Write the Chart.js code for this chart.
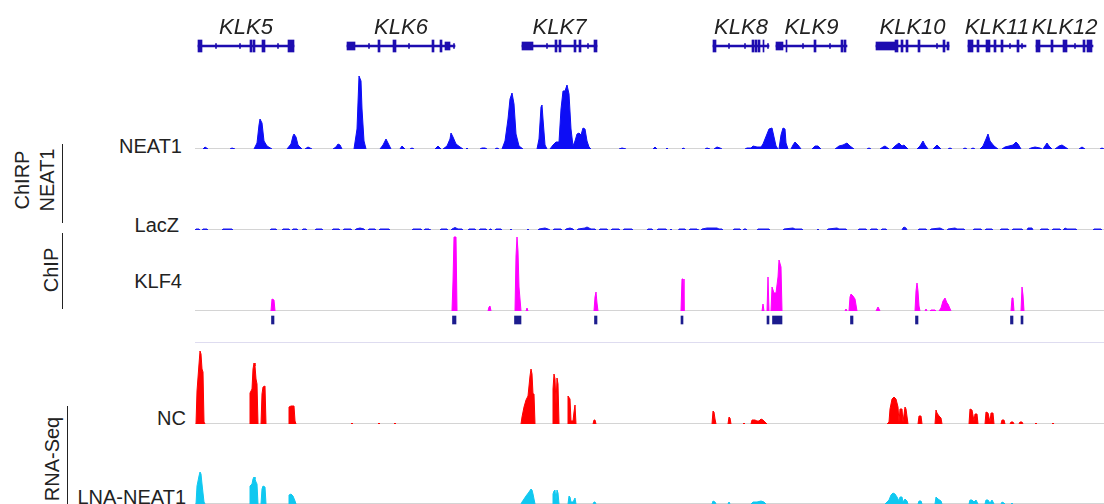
<!DOCTYPE html>
<html>
<head>
<meta charset="utf-8">
<script src="https://cdn.jsdelivr.net/npm/chart.js@4.4.1/dist/chart.umd.min.js"></script>
<style>
  body { margin: 0; background: #fff; }
  #wrap { position: relative; width: 1104px; height: 504px; overflow: hidden; font-family: "Liberation Sans", Arial, Helvetica, sans-serif; color: #222; }
  canvas { position: absolute; left: 195px; }
  .lbl { position: absolute; left: 0; font-size: 20px; line-height: 20px; text-align: right; white-space: nowrap; }
  .grp { position: absolute; font-size: 20px; line-height: 25px; text-align: center; white-space: nowrap; transform: translate(-50%, -50%) rotate(-90deg); }
  .vline { position: absolute; width: 1.3px; background: #222; }
</style>
</head>
<body>
<div id="wrap">
  <canvas id="genes" width="909" height="72" style="top:10px"></canvas>
  <canvas id="neat1" width="909" height="89" style="top:60px"></canvas>
  <canvas id="lacz" width="909" height="12" style="top:218px"></canvas>
  <canvas id="klf4" width="909" height="80" style="top:231px"></canvas>
  <canvas id="calls" width="909" height="16" style="top:312px"></canvas>
  <canvas id="nc" width="909" height="81" style="top:343px"></canvas>
  <canvas id="lna" width="909" height="81" style="top:423px"></canvas>

  <div style="position:absolute;left:195px;top:342px;width:909px;height:1px;background:#dedcf0"></div>

  <div class="lbl" style="width:182px;top:136px">NEAT1</div>
  <div class="lbl" style="width:179px;top:215px">LacZ</div>
  <div class="lbl" style="width:182px;top:271px">KLF4</div>
  <div class="lbl" style="width:186px;top:408px">NC</div>
  <div class="lbl" style="width:186px;top:487px">LNA-NEAT1</div>

  <div class="grp" style="left:35px;top:180px">ChIRP<br>NEAT1</div>
  <div class="grp" style="left:51px;top:270px">ChIP</div>
  <div class="grp" style="left:52px;top:459px">RNA-Seq</div>
  <div class="vline" style="left:62px;top:144px;height:79px"></div>
  <div class="vline" style="left:62px;top:233px;height:76px"></div>
  <div class="vline" style="left:67px;top:406px;height:98px"></div>
</div>

<script>
// позиции по оси x: бины локуса KLK (0..909)
var geneNames = ['KLK5', 'KLK6', 'KLK7', 'KLK8', 'KLK9', 'KLK10', 'KLK11', 'KLK12'];
var geneSpans = [[3, 99], [152, 260], [327, 402], [518, 574], [581, 652], [681, 754], [773, 831], [841, 898]];
var geneUtrs = [
  [],
  [[152, 160], [250, 255]],
  [[327, 338]],
  [],
  [[581, 588]],
  [[681, 700], [752, 754]],
  [],
  []
];
var geneExons = [
  [[3, 7], [55, 57], [58, 60], [67, 70], [93, 99]],
  [[183, 185], [198, 201], [237, 239], [245, 247]],
  [[360, 362], [364, 366], [379, 381], [384, 386], [399, 402]],
  [[518, 521], [557, 559], [560, 562], [563, 565], [568, 569]],
  [[591, 592], [619, 621], [646, 648], [649, 651]],
  [[700, 703], [706, 708], [711, 713], [723, 725], [748, 750]],
  [[773, 778], [782, 784], [791, 795], [799, 801], [806, 808], [822, 824]],
  [[841, 845], [856, 858], [868, 872], [888, 890], [892, 897]]
];
var geneArrows = [
  [[20.5, 21.5], [44.5, 45.5], [82.5, 83.5]],
  [[173.5, 174.5], [213.5, 214.5], [258.5, 259.5]],
  [[351.5, 352.5], [392.5, 393.5]],
  [[533.5, 534.5], [549.5, 550.5], [572.5, 573.5]],
  [[607.5, 608.5], [634.5, 635.5]],
  [[741.5, 742.5]],
  [[814.5, 815.5], [826.5, 827.5]],
  [[879.5, 880.5]]
];

// ChIRP NEAT1
var neat1Signal = [
  [8,0],[10,2],[13,0],[35,0],[37,1],[40,0],
  [59,0],[62,6],[64,24],[65,30],[67,26],[69,8],[72,3],[77,0],
  [92,0],[96,5],[98,13],[99,15],[101,12],[103,4],[107,0],
  [110,0],[113,2],[117,0],[138,0],[141,2],[143,5],[145,4],[147,0],
  [159,0],[162,20],[164,73],[166,68],[167,40],[169,8],[171,0],
  [185,0],[188,4],[191,10],[193,6],[196,0],
  [205,0],[207,3],[210,0],[215,0],[217,1],[219,0],[240,0],[243,3],[246,0],
  [248,0],[252,3],[255,10],[256,16],[258,12],[261,5],[265,2],[268,0],
  [271,0],[272,1],[273,0],[285,0],[287,1],[290,1],[292,0],[300,0],[302,1],[304,0],
  [307,0],[310,8],[313,30],[315,50],[317,56],[319,45],[321,15],[324,3],[328,0],
  [342,0],[344,10],[346,42],[347,44],[348,30],[350,4],[352,0],
  [355,0],[358,4],[361,7],[364,7],[366,40],[368,58],[370,58],[372,64],[374,55],[376,20],[378,3],
  [380,8],[382,15],[384,16],[386,14],[388,21],[390,20],[392,8],[394,2],[396,0],
  [424,0],[427,1],[431,0],
  [458,0],[460,2],[462,0],[471,0],[472,1],[473,0],[487,0],[488,1],[490,0],
  [510,0],[512,1],[515,0],[519,0],[522,2],[525,1],[527,0],
  [550,0],[552,1],[556,1],[558,3],[562,2],[566,2],[568,5],[570,10],[574,20],[577,21],[579,12],[581,3],[583,0],
  [584,0],[586,14],[588,21],[590,20],[591,6],[593,0],
  [596,0],[598,4],[600,7],[603,4],[606,0],[617,0],[620,3],[623,3],[626,0],
  [640,0],[644,3],[648,4],[652,6],[655,3],[659,0],[672,0],[674,1],[676,0],
  [685,0],[688,2],[690,3],[694,0],[697,0],[700,3],[704,6],[707,3],[709,4],[713,0],
  [722,0],[725,3],[728,8],[730,4],[733,0],[738,0],[742,4],[746,0],[753,0],[755,1],[757,0],
  [768,0],[770,1],[772,0],[776,0],[778,1],[780,0],
  [785,0],[788,3],[791,10],[793,15],[795,8],[799,3],[803,0],
  [807,0],[810,2],[814,3],[818,4],[821,7],[823,5],[826,0],
  [834,0],[836,1],[840,2],[845,1],[847,0],[848,0],[850,3],[852,6],[854,3],[857,0],
  [860,0],[864,3],[867,4],[870,2],[873,0],[884,0],[887,2],[890,0],[905,0],[907,1],[909,0]
];

// ChIRP LacZ (короткие отрезки фонового сигнала)
var laczSignal = [
  [0,0],[1,1],[4,1],[5,0],[7,0],[8,1],[12,1],[13,0],[27,0],[28,1],[37,1],[38,0],
  [75,0],[76,1],[81,1],[82,0],[87,0],[88,1],[94,1],[95,0],[97,0],[98,1],[102,1],[103,0],
  [107,0],[108,1],[111,1],[112,0],[120,0],[121,1],[127,1],[128,0],
  [137,0],[138,1],[144,1],[145,0],[148,0],[149,1],[156,1],[157,0],[160,0],[161,1],[165,2],[169,1],[170,0],
  [173,0],[174,1],[180,1],[181,0],[184,0],[185,1],[194,1],[195,0],
  [217,0],[218,1],[226,1],[227,0],[229,0],[230,1],[234,1],[235,0],
  [245,0],[246,1],[252,1],[253,0],[256,0],[257,1],[260,2.5],[263,1],[267,1],[268,0],
  [273,0],[274,1],[280,1],[281,0],[284,0],[285,1],[291,1],[292,0],[294,0],[295,1],[296,1],[297,0],
  [300,0],[301,1],[306,1],[307,0],[315,0],[316,1],[317,0],[332,0],[333,1],[334,0],
  [343,0],[344,1],[350,2],[353,1],[355,0],[358,0],[359,1],[366,1],[367,0],[370,0],[371,1],[375,2],[378,1],[379,0],
  [382,0],[383,1],[390,2],[392,3],[394,2],[396,1],[400,1],[401,0],[404,0],[405,1],[412,1],[413,0],
  [416,0],[417,1],[424,1],[425,0],[428,0],[429,1],[437,1],[438,0],
  [452,0],[453,1],[457,1],[458,0],[462,0],[463,1],[471,1],[472,0],[475,0],[476,1],[477,0],
  [483,0],[484,1],[490,1],[491,0],[494,0],[495,1],[502,1],[503,0],[506,0],[507,1],[512,2],[517,2],[522,2],[524,1],[527,1],[528,0],
  [538,0],[539,1],[545,1],[546,0],[548,0],[549,1],[551,1],[552,0],[562,0],[563,1],[574,1],[575,0],
  [588,0],[589,1],[598,2],[600,1],[607,1],[608,0],[622,0],[623,1],[624,0],
  [632,0],[633,1],[642,2],[644,1],[651,1],[652,0],[663,0],[664,1],[671,1],[672,0],[675,0],[676,1],[682,1],[683,0],[686,0],[687,1],[691,1],[692,0],
  [707,0],[708,2],[709,3],[711,2],[712,0],
  [723,0],[724,1],[731,1],[732,0],[735,0],[736,1],[745,2],[747,1],[749,0],[752,0],[753,1],[760,2],[762,1],[769,1],[770,0],
  [778,0],[779,1],[786,1],[787,0],[790,0],[791,1],[797,1],[798,0],[805,0],[806,1],[813,1],[814,0],[817,0],[818,1],[827,1],[828,0],[832,0],[833,2],[837,2],[838,0],
  [845,0],[846,1],[853,1],[854,0],[857,0],[858,1],[865,1],[866,0],[868,0],[870,2],[872,1],[881,1],[882,0],[898,0],[899,1],[906,1],[907,0]
];

// ChIP KLF4
var klf4Signal = [
  [76,0],[77,12],[79,11],[80,0],
  [257,0],[258,30],[259,74],[261,74],[262,0],
  [293,0],[294,4],[295,5],[296,0],
  [320,0],[321,55],[322,74],[323,60],[324,24],[325,12],[326,0],
  [331,0],[332,3],[333,0],
  [399,0],[400,14],[401,19],[402,8],[403,0],
  [486,0],[487,32],[488,32],[489,0],
  [567,0],[568,7],[569,0],[572,0],[573,34],[574,0],
  [576,0],[577,24],[579,18],[581,18],[583,34],[584,51],[586,44],[587,0],
  [650,0],[651,2],[652,0],[654,0],[655,14],[656,17],[658,15],[660,12],[662,0],
  [681,0],[683,4],[685,0],
  [720,0],[721,20],[722,28],[723,20],[724,5],[725,0],
  [730,0],[731,2],[732,0],[735,0],[736,1],[740,1],[741,0],
  [744,0],[746,3],[748,10],[750,13],[752,8],[753,7],[756,0],
  [816,0],[817,13],[818,13],[819,0],
  [826,0],[827,24],[828,16],[829,0]
];

// KLF4 peak calls
var klf4Peaks = [[76.5, 79], [257.5, 261], [319.5, 326], [399.5, 402], [486, 488], [572, 574], [577.5, 587], [655.5, 658], [720.5, 723], [815.5, 818], [826, 828]];

// RNA-Seq NC
var ncSignal = [
  [1,0],[2,33],[4,60],[5,73],[6,70],[7,55],[8,52],[9,2],[10,0],
  [55,0],[55,31],[57,35],[58,55],[59,61],[60,58],[61,45],[62,40],[63,0],
  [66,0],[67,30],[68,37],[70,38],[71,0],
  [94,0],[94,17],[96,18],[99,18],[100,3],[101,0],
  [156,0],[157,1],[158,0],[183,0],[184,1],[185,0],[199,0],[200,1],[201,0],
  [326,0],[327,7],[329,17],[331,24],[333,28],[335,48],[336,55],[337,50],[338,30],[339,30],[340,0],
  [358,0],[358,35],[359,50],[360,45],[361,20],[362,46],[363,40],[364,0],
  [373,0],[373,28],[375,25],[376,3],[378,3],[379,12],[380,19],[381,0],
  [398,0],[399,4],[400,4],[401,0],
  [517,0],[518,13],[519,12],[520,5],[521,0],[533,0],[534,7],[535,6],[536,0],[548,0],[549,1],[550,0],
  [556,0],[557,4],[560,4],[562,3],[564,3],[566,5],[568,4],[570,2],[572,0],
  [692,0],[694,2],[695,15],[697,25],[699,27],[701,25],[703,17],[704,2],[705,15],[707,15],[708,2],[710,17],[711,15],[713,0],
  [723,0],[724,8],[726,8],[727,0],
  [740,0],[741,14],[742,11],[744,8],[746,6],[747,0],
  [774,0],[775,15],[777,14],[779,3],[780,10],[782,10],[783,0],
  [790,0],[791,12],[793,11],[795,2],[796,11],[798,11],[799,0],
  [806,0],[807,4],[809,4],[810,0],[815,0],[816,2],[818,2],[819,0],[824,0],[825,2],[827,2],[828,0],
  [840,0],[841,1],[842,0],[857,0],[858,1],[859,0]
];

// RNA-Seq LNA-NEAT1
var lnaSignal = [
  [1,0],[2,18],[4,28],[5,32],[6,30],[7,20],[9,2],[10,0],
  [55,0],[55,18],[57,20],[58,25],[59,27],[60,25],[61,22],[62,20],[63,0],
  [66,0],[67,15],[68,18],[70,17],[71,0],
  [94,0],[94,9],[96,10],[98,8],[100,3],[101,0],
  [326,0],[327,2],[329,5],[331,8],[334,12],[336,15],[337,14],[338,10],[340,0],
  [358,0],[358,10],[359,13],[360,14],[361,4],[362,14],[363,11],[364,0],
  [373,0],[374,8],[375,7],[376,2],[378,2],[380,6],[381,0],
  [398,0],[399,2],[400,2],[401,0],
  [517,0],[518,3],[520,2],[521,0],[533,0],[534,2],[535,0],
  [556,0],[558,2],[562,2],[566,3],[569,2],[571,0],
  [690,0],[694,4],[696,9],[698,11],[700,10],[702,7],[704,3],[705,7],[707,7],[708,2],[710,5],[712,3],[713,0],
  [723,0],[724,3],[726,3],[727,0],
  [740,0],[741,7],[743,5],[746,3],[747,0],
  [774,0],[775,4],[777,4],[779,2],[781,4],[783,0],
  [790,0],[791,4],[793,4],[795,1],[797,4],[799,0],
  [806,0],[807,2],[809,1],[810,0],[816,0],[817,1],[818,0]
];

var xMin = 0, xMax = 909;
var FONT = '"Liberation Sans", Arial, Helvetica, sans-serif';

// серая базовая линия трека
var baselinePlugin = {
  id: 'baseline',
  beforeDatasetsDraw: function (chart) {
    var a = chart.chartArea, ctx = chart.ctx;
    ctx.save();
    ctx.fillStyle = '#d4d4d4';
    ctx.fillRect(a.left, chart.scales.y.getPixelForValue(0) - 1, a.right - a.left, 1);
    ctx.restore();
  }
};

var baseOptions = function (yMax) {
  return {
    responsive: false,
    animation: false,
    events: [],
    layout: { padding: 0 },
    plugins: { legend: { display: false }, tooltip: { enabled: false } },
    scales: {
      x: { type: 'linear', min: xMin, max: xMax, display: false },
      y: { min: 0, max: yMax, display: false }
    }
  };
};

function CreateTrack(ControlId, Signal, Color, YMax) {
  var ctx = document.getElementById(ControlId);
  return new Chart(ctx, {
    type: 'line',
    data: {
      datasets: [{
        data: Signal,
        borderColor: Color,
        backgroundColor: Color,
        borderWidth: 1,
        fill: 'origin',
        pointRadius: 0,
        tension: 0,
        segment: {
          // не рисуем линию вдоль нуля между пиками
          borderColor: function (c) { return (c.p0.parsed.y === 0 && c.p1.parsed.y === 0) ? 'rgba(0,0,0,0)' : undefined; }
        }
      }]
    },
    options: baseOptions(YMax),
    plugins: [baselinePlugin]
  });
}

CreateTrack('neat1', neat1Signal, '#0d0df5', 89);
CreateTrack('lacz', laczSignal, '#1a1af0', 12);
CreateTrack('klf4', klf4Signal, '#ff00ff', 80);
CreateTrack('nc', ncSignal, '#ff0000', 81);
CreateTrack('lna', lnaSignal, '#10c8f0', 81);

// интервалы -> плавающие полосы на одной строке
function toBars(list) {
  var out = [];
  for (var i = 0; i < list.length; i++) out.push({ x: list[i], y: 'row' });
  return out;
}
function barSet(list, color, thick) {
  return {
    data: toBars(list), backgroundColor: color, borderWidth: 0, borderSkipped: false,
    barThickness: thick, grouped: false
  };
}
function hBarOptions() {
  var o = baseOptions(0);
  o.indexAxis = 'y';
  o.scales.y = { type: 'category', labels: ['row'], display: false };
  return o;
}

// пики KLF4
new Chart(document.getElementById('calls'), {
  type: 'bar',
  data: { labels: ['row'], datasets: [barSet(klf4Peaks, '#1c1c8e', 8)] },
  options: hBarOptions()
});

// модели генов
var allUtrs = [], allExons = [], allArrows = [];
for (var g = 0; g < geneNames.length; g++) {
  allUtrs = allUtrs.concat(geneUtrs[g]);
  allExons = allExons.concat(geneExons[g]);
  allArrows = allArrows.concat(geneArrows[g]);
}
var geneColor = '#1d0cb0';
var geneLabelPlugin = {
  id: 'geneLabels',
  afterDatasetsDraw: function (chart) {
    var ctx = chart.ctx, xs = chart.scales.x;
    ctx.save();
    ctx.fillStyle = '#222';
    ctx.font = 'italic 22px ' + FONT;
    ctx.textAlign = 'center';
    ctx.textBaseline = 'alphabetic';
    for (var i = 0; i < geneNames.length; i++) {
      var cx = xs.getPixelForValue((geneSpans[i][0] + geneSpans[i][1]) / 2);
      ctx.fillText(geneNames[i], cx, 24);
    }
    ctx.restore();
  }
};
new Chart(document.getElementById('genes'), {
  type: 'bar',
  data: {
    labels: ['row'],
    datasets: [
      barSet(geneSpans, geneColor, 1.8),
      barSet(allArrows, geneColor, 5),
      barSet(allUtrs, geneColor, 8),
      barSet(allExons, geneColor, 12)
    ]
  },
  options: hBarOptions(),
  plugins: [geneLabelPlugin]
});
</script>
</body>
</html>
